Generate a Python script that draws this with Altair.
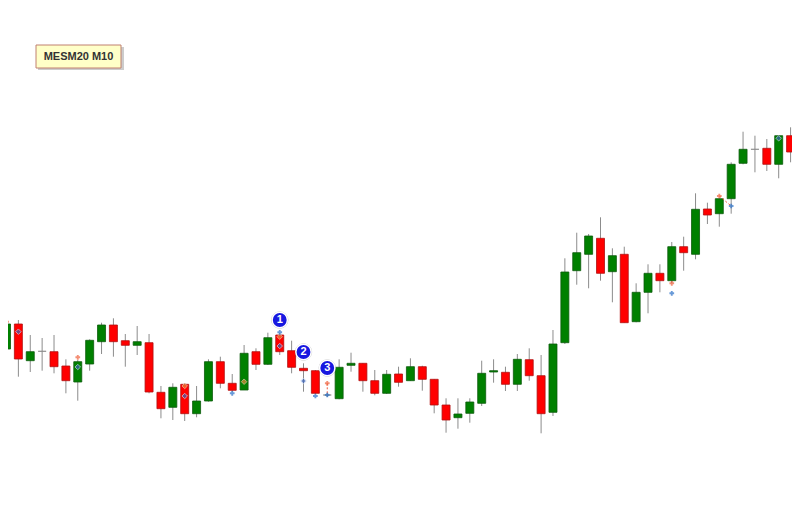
import altair as alt
import pandas as pd

# Candles (price units, higher = higher)
opens  = [151, 176, 139.3, 148.7, 148.3, 134, 118, 136, 158.3, 175, 159.3, 154.7, 157.3, 107.7, 92.7, 115.7, 86.3, 99, 138.3, 116.7,
          110, 148.3, 135.7, 165, 149.3, 131.7, 129.3, 105, 101.3, 134.7, 136.7, 119.3, 106.7, 126, 119.3, 133.3, 120.7, 95, 82.3, 86.7,
          96.7, 128, 127.7, 115.7, 140.3, 124.3, 87.7, 157.3, 229.3, 245.7, 261.7, 228.3, 245.7, 178.3, 207.7, 226.7, 219.3, 253.3, 245.7, 291,
          286.3, 301.3, 336.7, 350.7, 351.7, 335.7, 364.3]
highs  = [184, 180, 165, 162, 165, 140.7, 140, 160.7, 177.3, 181.7, 166, 174, 166, 114, 116.7, 117, 114, 140.7, 143.3, 126,
          155, 151.7, 167.3, 166.7, 159.3, 136.7, 130, 107, 140.7, 147.3, 137, 130, 130, 133.3, 141.7, 134.3, 121, 101.7, 101.7, 101.7,
          139.3, 140.7, 133.3, 146, 151.7, 145, 170, 241.7, 267.3, 266, 282.7, 251.7, 253.3, 216.7, 235.7, 235.7, 258, 263.3, 306.7, 297.3,
          302, 337.7, 368.3, 364.3, 361, 365, 372.7]
lows   = [142.3, 123.3, 128, 129.3, 126.7, 106.7, 99.3, 129.3, 146, 143.3, 133.3, 145, 106.7, 81.7, 80, 79, 82.7, 98.3, 111.7, 108.3,
          110, 130, 135, 145, 126.7, 108.3, 106, 103, 100.7, 128.3, 108.3, 104.7, 106, 113.3, 119, 109.3, 86.7, 67.3, 71.3, 77.3,
          94, 117.3, 109, 109, 119.3, 66.7, 84, 156, 215.3, 211.7, 219.3, 197.7, 177.3, 177.7, 186.7, 207.7, 216.7, 229.3, 240.7, 276,
          273.3, 286.3, 335.7, 327.7, 329, 321.7, 337.7]
closes = [176, 141, 148.3, 148.7, 133.3, 119.3, 138.3, 159.7, 175, 158.3, 154.7, 158.3, 108, 91.3, 112.7, 86.3, 99, 138.3, 116.7, 109.7,
          146.7, 135.7, 162.3, 148.3, 132.7, 129.3, 106.7, 105, 132.7, 136.7, 119.3, 106.7, 125.7, 117.7, 133.3, 120.7, 95, 80, 86, 98,
          126.7, 129.3, 115.7, 140.7, 124.3, 86.3, 156, 228, 247.3, 264, 226.7, 244.3, 177.3, 207.7, 226.7, 219.3, 253.3, 247.3, 290.7, 285,
          301.3, 335.7, 350.7, 350.7, 335.7, 364.3, 348]

# Signal markers: (bar index, price)
orange_cross_idx = [0, 6, 27, 56, 60]
orange_cross_val = [178.3, 142.7, 116.7, 216.7, 304]
orange_dot_idx = [15, 20, 23]
orange_dot_val = [114, 118.3, 163.3]
blue_cross_idx = [19, 23, 26, 27, 56, 61]
blue_cross_val = [106.7, 167.7, 104, 105, 206.7, 294]
blue_diamond_idx = [1, 6, 15, 23, 25, 65]
blue_diamond_val = [168.3, 133, 104, 154, 119, 361.7]

# Dotted connector lines
link_idx1 = [27, 60]
link_val1 = [116.7, 304]
link_idx2 = [27, 61]
link_val2 = [105, 294]

# Numbered labels
num_idx = [23, 25, 27]
num_val = [180, 148, 132]
num_txt = ["1", "2", "3"]

title_text = "MESM20 M10"

n = len(opens)
df = pd.DataFrame({"i": list(range(n)), "open": opens, "high": highs, "low": lows, "close": closes})
df["dir"] = ["up" if c > o else ("down" if c < o else "flat") for o, c in zip(opens, closes)]

W, H = 784, 508
STEP = 11.88
xs = alt.Scale(domain=[1.5 / STEP, 1.5 / STEP + W / STEP], nice=False, zero=False, padding=0)
ys = alt.Scale(domain=[-16, 492], nice=False, zero=False, padding=0)

X = alt.X("i:Q", scale=xs, axis=None)

wicks = alt.Chart(df).mark_rule(color="#8c8c8c", strokeWidth=1).encode(
    x=X, y=alt.Y("low:Q", scale=ys, axis=None), y2="high:Q")

bodies = alt.Chart(df).mark_bar(size=8, strokeWidth=0.8).encode(
    x=X, y=alt.Y("open:Q", scale=ys, axis=None), y2="close:Q",
    color=alt.Color("dir:N", scale=alt.Scale(domain=["up", "down", "flat"], range=["#008000", "#ff0000", "#8c8c8c"]), legend=None),
    stroke=alt.Stroke("dir:N", scale=alt.Scale(domain=["up", "down", "flat"], range=["#0b5a0b", "#b01010", "#8c8c8c"]), legend=None),
)

links = alt.Chart(pd.DataFrame({"a": link_idx1, "v1": link_val1, "b": link_idx2, "v2": link_val2})).mark_rule(
    color="#f05a3c", strokeWidth=1, strokeDash=[2, 2]).encode(
    x=alt.X("a:Q", scale=xs, axis=None), x2="b:Q",
    y=alt.Y("v1:Q", scale=ys, axis=None), y2="v2:Q")

oc = alt.Chart(pd.DataFrame({"i": orange_cross_idx, "v": orange_cross_val})).mark_point(
    shape="cross", size=22, filled=True, color="#f0603a").encode(x=X, y=alt.Y("v:Q", scale=ys, axis=None))
od = alt.Chart(pd.DataFrame({"i": orange_dot_idx, "v": orange_dot_val})).mark_point(
    shape="diamond", size=30, filled=True, color="#e8883a", stroke="#f5d0b0", strokeWidth=1).encode(x=X, y=alt.Y("v:Q", scale=ys, axis=None))
bc = alt.Chart(pd.DataFrame({"i": blue_cross_idx, "v": blue_cross_val})).mark_point(
    shape="cross", size=22, filled=True, color="#2a6fc8").encode(x=X, y=alt.Y("v:Q", scale=ys, axis=None))
bd = alt.Chart(pd.DataFrame({"i": blue_diamond_idx, "v": blue_diamond_val})).mark_point(
    shape="diamond", size=30, filled=True, color="#3a62b8", stroke="#c8d8f0", strokeWidth=1).encode(x=X, y=alt.Y("v:Q", scale=ys, axis=None))

numdf = pd.DataFrame({"i": num_idx, "v": num_val, "t": num_txt})
shadow_c = alt.Chart(numdf).mark_circle(size=300, color="#000000", opacity=0.25, dx=1, dy=1).encode(
    x=X, y=alt.Y("v:Q", scale=ys, axis=None))
circles = alt.Chart(numdf).mark_point(shape="circle", size=235, filled=True, fill="#1818e0", stroke="white",
                                      strokeWidth=1.5, opacity=1).encode(x=X, y=alt.Y("v:Q", scale=ys, axis=None))
digits = alt.Chart(numdf).mark_text(color="white", fontWeight="bold", fontSize=11, font="Liberation Sans",
                                    baseline="middle", align="center").encode(
    x=X, y=alt.Y("v:Q", scale=ys, axis=None), text="t:N")

tdf = pd.DataFrame({"t": [title_text]})
box_shadow = alt.Chart(tdf).mark_rect(color="#999999", opacity=0.5).encode(
    x=alt.value(30), x2=alt.value(116), y=alt.value(39), y2=alt.value(62))
box = alt.Chart(tdf).mark_rect(fill="#ffffc8", stroke="#c08070", strokeWidth=1).encode(
    x=alt.value(28), x2=alt.value(113), y=alt.value(37), y2=alt.value(60))
box_text = alt.Chart(tdf).mark_text(fontWeight="bold", fontSize=11, font="Liberation Sans", color="#333333",
                                    align="center", baseline="middle").encode(
    x=alt.value(70.5), y=alt.value(49), text="t:N")

chart = alt.layer(wicks, bodies, links, oc, od, bc, bd, shadow_c, circles, digits, box_shadow, box, box_text).properties(
    width=W, height=H, padding=0, autosize=alt.AutoSizeParams(type="none"), background="white"
).configure_view(stroke=None)

chart.save("out.html", embed_options={"renderer": "svg", "actions": False})
